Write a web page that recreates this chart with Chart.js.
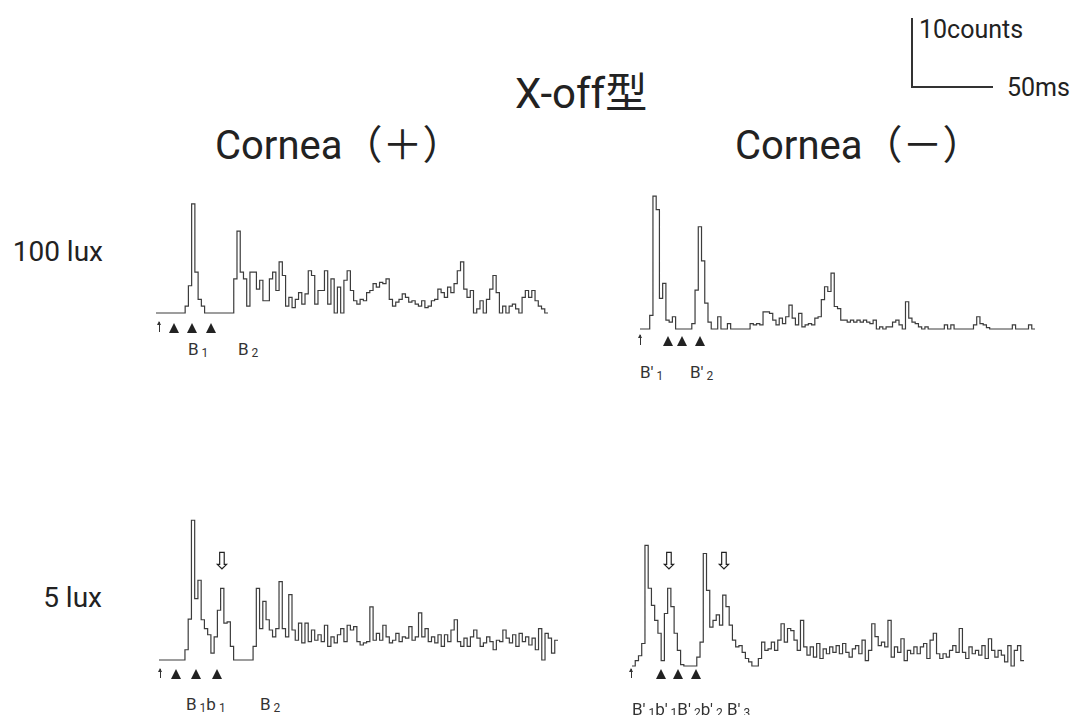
<!DOCTYPE html>
<html>
<head>
<meta charset="utf-8">
<script src="https://cdn.jsdelivr.net/npm/chart.js@4"></script>
<style>
  body { margin: 0; background: #fff; }
  #page { position: relative; width: 1077px; height: 715px; overflow: hidden; font-family: Roboto, "Liberation Sans", sans-serif; color: #222; }
  .t { position: absolute; line-height: 1; white-space: nowrap; }
  .cjk { font-family: "Noto Sans CJK JP", sans-serif; }
  .lb { position: absolute; line-height: 1; font-size: 17px; white-space: nowrap; color: #333; }
  .lb sub { font-size: 12px; vertical-align: -2px; margin-left: 3px; }
  .tri { position: absolute; width: 0; height: 0; border-left: 5.5px solid transparent; border-right: 5.5px solid transparent; border-bottom: 10px solid #222; }
  .up { position: absolute; width: 1.4px; background: #333; }
  .up::before { content: ""; position: absolute; left: -2px; top: -1px; border-left: 2.7px solid transparent; border-right: 2.7px solid transparent; border-bottom: 4px solid #333; }
  .dn { position: absolute; line-height: 1; font-family: "DejaVu Sans", sans-serif; font-size: 24px; color: #222; }
  canvas { position: absolute; }
  .bar { position: absolute; background: #333; }
</style>
</head>
<body>
<div id="page">
  <div class="t cjk" style="left:515px;top:69px;font-size:42px;"><span style="font-family:Roboto">X-off</span>型</div>
  <div class="t" style="left:215px;top:122px;font-size:40px;">Cornea<span class="cjk">（＋）</span></div>
  <div class="t" style="left:735px;top:122px;font-size:40px;">Cornea<span class="cjk">（－）</span></div>
  <div class="t" style="right:974px;top:238px;font-size:28px;">100 lux</div>
  <div class="t" style="right:975px;top:584px;font-size:28px;">5 lux</div>

  <!-- scale bar -->
  <div class="bar" style="left:911px;top:18px;width:2px;height:70px;"></div>
  <div class="bar" style="left:911px;top:86px;width:82px;height:2px;"></div>
  <div class="t" style="left:919px;top:17px;font-size:25px;">10counts</div>
  <div class="t" style="left:1007px;top:75px;font-size:25px;">50ms</div>

  <canvas id="cA"></canvas>
  <canvas id="cB"></canvas>
  <canvas id="cC"></canvas>
  <canvas id="cD"></canvas>

  <!-- markers under histograms -->
  <div class="up" style="left:159px;top:322px;height:10px;"></div>
  <div class="tri" style="left:169px;top:323px;"></div>
  <div class="tri" style="left:187px;top:323px;"></div>
  <div class="tri" style="left:206px;top:323px;"></div>
  <div class="lb" style="left:188px;top:341px;">B<sub>1</sub></div>
  <div class="lb" style="left:238px;top:341px;">B<sub>2</sub></div>

  <div class="up" style="left:640px;top:335px;height:10px;"></div>
  <div class="tri" style="left:663px;top:336px;"></div>
  <div class="tri" style="left:677px;top:336px;"></div>
  <div class="tri" style="left:695px;top:336px;"></div>
  <div class="lb" style="left:640px;top:364px;">B′<sub>1</sub></div>
  <div class="lb" style="left:690px;top:364px;">B′<sub>2</sub></div>

  <div class="up" style="left:160px;top:669px;height:9px;"></div>
  <div class="tri" style="left:171px;top:669px;"></div>
  <div class="tri" style="left:191px;top:669px;"></div>
  <div class="tri" style="left:212px;top:669px;"></div>
  <div class="lb" style="left:186px;top:696px;">B<sub>1</sub>b<sub>1</sub></div>
  <div class="lb" style="left:260px;top:696px;">B<sub>2</sub></div>
  <div class="dn" style="left:212px;top:549px;">⇩</div>

  <div class="up" style="left:631px;top:669px;height:9px;"></div>
  <div class="tri" style="left:656px;top:669px;"></div>
  <div class="tri" style="left:673px;top:669px;"></div>
  <div class="tri" style="left:691px;top:669px;"></div>
  <div class="lb" style="left:632px;top:701px;">B′<sub>1</sub>b′<sub>1</sub>B′<sub>2</sub>b′<sub>2</sub>&nbsp;B′<sub>3</sub></div>
  <div class="dn" style="left:659px;top:549px;">⇩</div>
  <div class="dn" style="left:714px;top:549px;">⇩</div>
</div>

<script>
// counts per 2 ms bin
const BIN_MS = 2;

// 100 lux, Cornea(+)
const plus100 = [0,0,0,0,0,0,0,0,0,1,4,16,6,2,1,0,0,0,0,0,0,0,0,0,
  5,12,6,5,1,6,6,3.5,4.8,1.8,1.8,5,6,3.3,7.5,5.5,1,2.3,0.8,2,3,1.3,2.8,6.2,5.5,1.3,
  3.3,3.3,6.2,1.3,5,0,3.8,0,4.8,6.2,3.3,1.8,1.3,2,1.8,3,3.3,4.3,3.8,4.5,4.3,5,2,1,
  1.6,2,2.8,2.3,1.6,1.8,1.3,1,1.8,0.8,1,1.8,2,3.5,3,2.3,3.8,3,4.3,6.2,7.5,3.5,2.3,3.3,
  0,0.6,1.8,0,2,3.5,5.5,3,0,1,0,1,1.3,0.6,0,2.3,3.3,2.3,3.3,1.8,1,0.6,0];

// 100 lux, Cornea(-)
const minus100 = [0,0,0,2,19.5,17.5,4.5,6.7,1.3,1,1.8,0,0,0,0,0,
  0.8,5.7,15,10,3.8,1,0,0,1.8,0,0,0.8,0,0,0,0,0,0,
  0.8,0.6,0.8,0.6,2.5,2.5,2.3,1.3,0.6,1.6,0.8,1.8,3.5,1.6,0.6,2.3,0.3,0.6,0.8,0.6,1.6,1.8,
  4.3,6.2,5.5,8.2,3.3,3,1.3,1.3,1,1.3,1,1.3,1,1.3,1,0.8,1.3,0,0.3,0,0.3,0.3,1,1.3,0.6,0,
  4,1.6,1,0.8,0.3,0,0.3,0,0,0,0,0,0.6,0,0.6,0,0,0,0,0,0,
  0.6,1.8,0.8,0.6,0.2,0,0,0,0,0,0,0,0.6,0,0,0,0,0.6,0];

// 5 lux, Cornea(+)
const plus5 = [0,0,0,0,0,0,0,0,1.5,6,20.5,9,11.7,5.9,4.6,3.7,1,3.4,7.3,10.5,5.4,5.6,2,
  0,0,0,0,0,0,
  2,10.5,4.6,8.6,5.9,4.4,3.4,4.6,11.5,4.6,3.4,9.6,4.4,2.9,5.4,2.5,5.4,2.7,4.4,2.9,3.7,
  2.7,5.1,2,3.4,2.5,3.7,4.6,2.7,5.1,4.4,4.9,2.7,2.2,2.5,2.7,7.8,2.9,3.9,2.9,5.1,3.4,
  2.5,2.9,3.9,2.7,3.4,3.2,4.9,2.9,3.4,6.9,3.4,4.6,2.7,3.4,2.5,3.7,2,3.7,2.7,4.4,5.9,
  2.7,2,3.2,2,3.4,4.4,3.2,2,2.5,3.4,2.7,1.5,2.9,2.7,4.4,3.2,2.5,3.7,2,3.9,2.7,3.4,2.2,
  3.2,1.5,4.6,0,3.9,3.2,1,2.9];

// 5 lux, Cornea(-)
const minus5 = [0,0.8,1.5,3.3,17.7,11.4,8.9,6.7,4.8,0.8,7.7,11.4,8.7,4.8,2.3,0.2,0,0,0,0,
  1.3,3.5,16.5,11.1,5.7,6.7,7.5,6,10.4,8.7,6,3.8,2.8,3,2,1.1,0.6,0,0,1.1,
  3.5,2.3,2.5,3.5,2.3,3.8,6.2,3.5,5.5,5.2,3.8,2.3,6.7,2.8,1.6,2.8,1.3,3.3,1.1,2.5,
  1.8,2.8,2,3,1.8,3.3,2,1.3,2.5,3,1.8,3.8,0.8,2.3,6.2,4.3,3,3.5,2.8,6.7,1.3,2.8,2,4,
  0.8,2.3,1.8,2.8,1.8,2.8,3.3,1.1,3.8,4.8,1.8,1.1,1.8,1.3,2.3,3,2,5.5,2,1.1,2.8,1.8,
  2.3,1.6,3,1.1,4,2.3,1.3,2.3,1.6,0.6,3,0,2.3,3,0.8];

// drawing scale, same as the scale bar: 81 px = 50 ms, 68 px = 10 counts
const PX_MS = 81 / 50;
const PX_COUNT = 68 / 10;
const Y_MAX = 22;
const PAD = 3;

const $ = (s) => document.querySelector(s);

function drawPanel(sel, counts, left, base) {
  const n = counts.length;
  const w = n * BIN_MS * PX_MS;
  const h = Y_MAX * PX_COUNT;
  const cv = $(sel);
  cv.width = Math.round(w + 2 * PAD);
  cv.height = Math.round(h + 2 * PAD);
  cv.style.left = (left - PAD) + "px";
  cv.style.top = (base - h - PAD) + "px";

  const pts = counts.map((v, i) => ({ x: i * BIN_MS, y: v }));
  pts.push({ x: n * BIN_MS, y: counts[n - 1] });

  new Chart(cv.getContext("2d"), {
    type: "line",
    data: { datasets: [{ data: pts, stepped: true, borderColor: "#3c3c3c", borderWidth: 1.2, pointRadius: 0, fill: false, clip: false }] },
    options: {
      responsive: false, animation: false, events: [],
      layout: { padding: PAD },
      plugins: { legend: { display: false }, tooltip: { enabled: false } },
      scales: {
        x: { type: "linear", display: false, min: 0, max: n * BIN_MS },
        y: { display: false, min: 0, max: Y_MAX }
      }
    }
  });
}

drawPanel("#cA", plus100, 156, 313);
drawPanel("#cB", minus100, 640, 329);
drawPanel("#cC", plus5, 159, 660);
drawPanel("#cD", minus5, 632, 666);
</script>
</body>
</html>
